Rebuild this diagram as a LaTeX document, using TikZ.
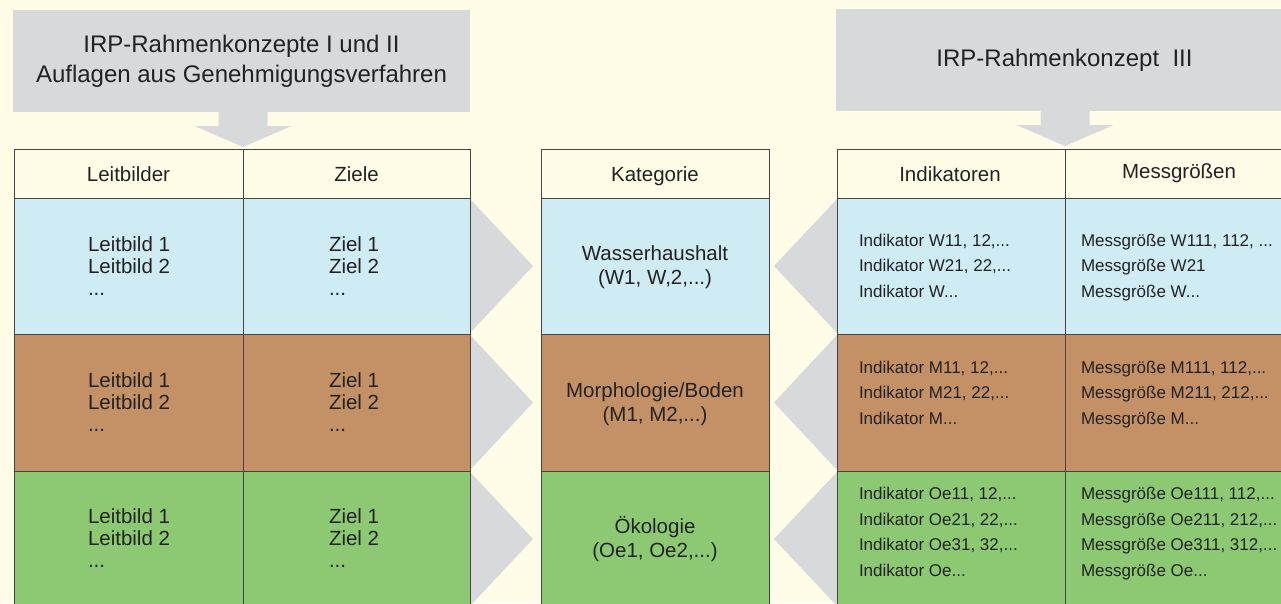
\documentclass[tikz,border=0pt]{standalone}
\usepackage{fontspec}
\setmainfont{Liberation Sans}
\usetikzlibrary{calc}
\definecolor{bg}{HTML}{FFFDE7}
\definecolor{banner}{HTML}{D8D9DB}
\definecolor{wasser}{HTML}{CFEBF3}
\definecolor{boden}{HTML}{C49066}
\definecolor{oeko}{HTML}{8DC873}
\definecolor{rule}{HTML}{454545}
\definecolor{ink}{HTML}{222222}
\tikzset{
  cell/.style={draw=rule, line width=1pt, inner sep=0pt, outer sep=0pt, anchor=north west},
  bannerbox/.style={fill=banner, inner sep=0pt, outer sep=0pt, anchor=north west,
    minimum width=457pt, minimum height=102pt, text=ink, align=center,
    font=\fontsize{24}{30}\selectfont},
  txt/.style={text=ink, inner sep=0pt, outer sep=0pt},
  head/.style={txt, anchor=base, font=\fontsize{20.5}{24}\selectfont},
  % multi-line nodes: the base anchor sits on the last line
  leftlist/.style={txt, anchor=base west, align=left, font=\fontsize{20.5}{22}\selectfont},
  catlist/.style={txt, anchor=base, align=center, font=\fontsize{20.5}{24}\selectfont},
  measlist/.style={txt, anchor=base west, align=left, font=\fontsize{17}{25.4}\selectfont},
  fatdown/.pic={
    \fill[banner] (-24.5,-38) -- (24.5,-38) -- (24.5,-23) -- (48.5,-23) -- (0,-2)
      -- (-48.5,-23) -- (-24.5,-23) -- cycle;
  },
}
\begin{document}
\begin{tikzpicture}[x=1pt,y=-1pt]
\useasboundingbox (0,0) rectangle (1281,603);
\clip (0,0) rectangle (1281,603);
\fill[bg] (0,0) rectangle (1281,603);

% source banners
\node[bannerbox] (bannerL) at (13,10) {IRP-Rahmenkonzepte I und II\\Auflagen aus Genehmigungsverfahren};
\node[bannerbox] (bannerR) at (836,9) {IRP-Rahmenkonzept\ \ III};

% chevrons pointing towards the category column
\foreach \t/\b in {198/334, 334/471, 471/607} {
  \fill[banner] (470,\t+1) -- (533,{(\t+\b)/2}) -- (470,\b-1) -- cycle;
  \fill[banner] (837,\t+1) -- (774,{(\t+\b)/2}) -- (837,\b-1) -- cycle;
}

% table cells: columns x rows
\foreach \cn/\cx/\cw in {L1/14/229pt, L2/243/227pt, K/541/228pt, I/837/228pt, M/1065/228pt}
  \foreach \rn/\ry/\rh/\rf in {h/149/49pt/bg, 1/198/136pt/wasser, 2/334/137pt/boden, 3/471/137pt/oeko}
    \node[cell, fill=\rf, minimum width=\cw, minimum height=\rh] (\cn-\rn) at (\cx,\ry) {};

% arrows from the banners into the tables
\coordinate (tipL) at (L1-h.north east);
\coordinate (tipR) at ($(I-h.north east)+(0,-1)$);
\pic at (tipL) {fatdown};
\pic at (tipR) {fatdown};

% headers
\node[head] (tL1) at (128.5,181) {Leitbilder};
\node[head] (tL2) at (356.5,181) {Ziele};
\node[head] (tK)  at (655,181) {Kategorie};
\node[head] (tI)  at (950,181) {Indikatoren};
\node[head] (tM)  at (1179,178) {Messgrößen};

% Leitbilder / Ziele
\foreach \r/\y in {1/295, 2/431, 3/567} {
  \node[leftlist] (lb-\r) at (88,\y) {Leitbild 1\\Leitbild 2\\...};
  \node[leftlist] (zi-\r) at (329,\y) {Ziel 1\\Ziel 2\\...};
}

% Kategorie
\node[catlist] (k1) at (655,284) {Wasserhaushalt\\(W1, W,2,...)};
\node[catlist] (k2) at (655,421) {Morphologie/Boden\\(M1, M2,...)};
\node[catlist] (k3) at (655,557) {Ökologie\\(Oe1, Oe2,...)};

% Indikatoren
\node[measlist] (i1) at (859,297) {Indikator W11, 12,...\\Indikator W21, 22,...\\Indikator W...};
\node[measlist] (i2) at (859,424) {Indikator M11, 12,...\\Indikator M21, 22,...\\Indikator M...};
\node[measlist] (i3) at (859,576) {Indikator Oe11, 12,...\\Indikator Oe21, 22,...\\Indikator Oe31, 32,...\\Indikator Oe...};

% Messgroessen
\node[measlist] (m1) at (1081,297) {Messgröße W111, 112, ...\\Messgröße W21\\Messgröße W...};
\node[measlist] (m2) at (1081,424) {Messgröße M111, 112,...\\Messgröße M211, 212,...\\Messgröße M...};
\node[measlist] (m3) at (1081,576) {Messgröße Oe111, 112,...\\Messgröße Oe211, 212,...\\Messgröße Oe311, 312,...\\Messgröße Oe...};
\end{tikzpicture}
\end{document}
